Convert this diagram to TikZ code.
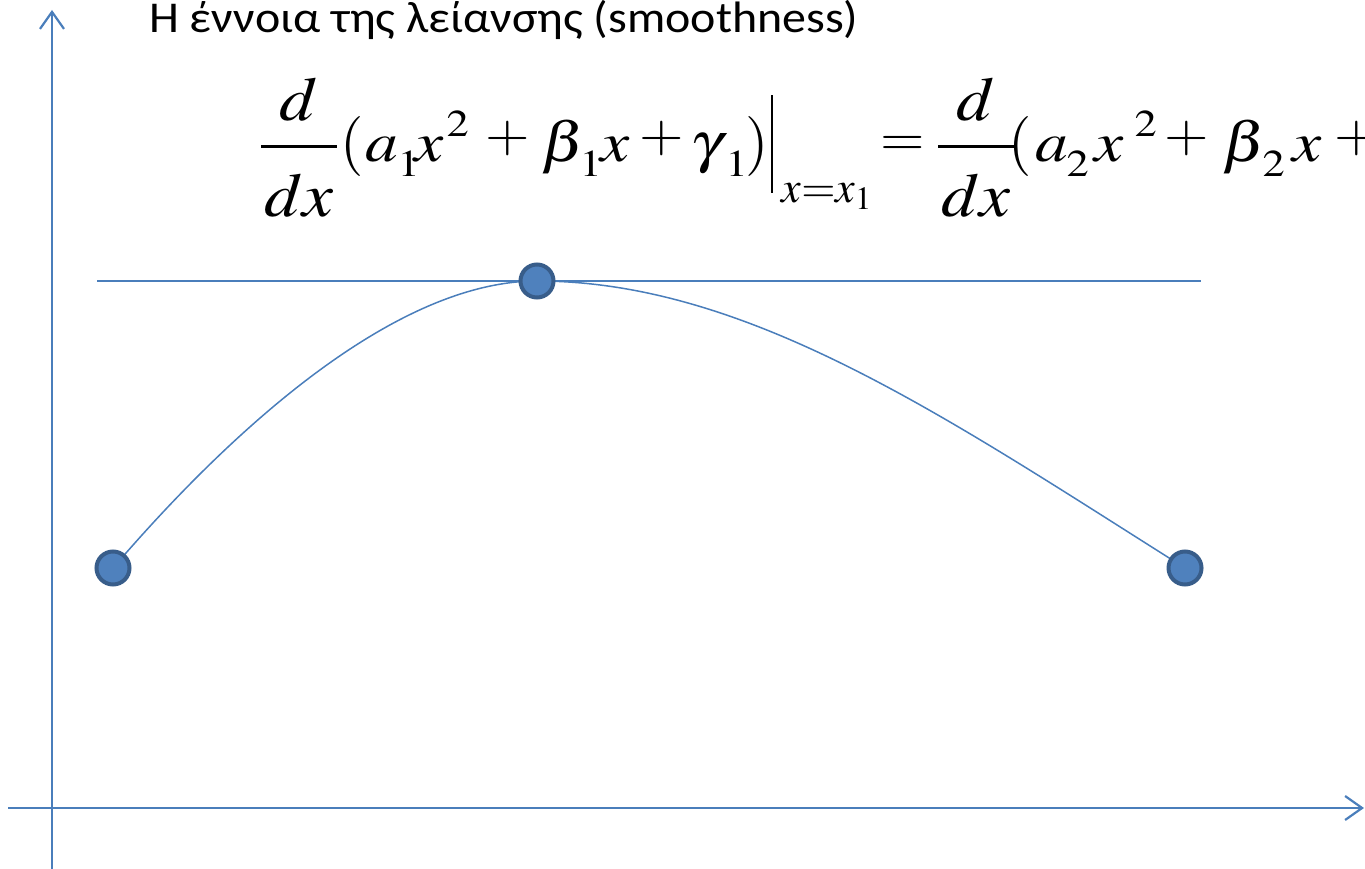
\documentclass[tikz,border=0pt]{standalone}
\usepackage{mathptmx}
\usepackage[no-math]{fontspec}
\setmainfont{Carlito}
\usetikzlibrary{arrows.meta}
\definecolor{axisblue}{HTML}{4A7EBB}
\definecolor{ptfill}{HTML}{4F81BD}
\definecolor{ptdraw}{HTML}{385D8A}
\tikzset{
  axisline/.style={draw=axisblue, line width=2.2pt, -{Straight Barb[length=17pt,width=24pt,line width=2.2pt]}},
  tangentline/.style={draw=axisblue, line width=1.8pt},
  curveline/.style={draw=axisblue, line width=1.5pt},
  ptnode/.style={circle, fill=ptfill, draw=ptdraw, line width=4pt, minimum size=33pt, inner sep=0pt},
  titletext/.style={inner sep=0pt, anchor=base west, font=\fontsize{44}{50}\selectfont},
  eqtext/.style={inner sep=0pt, anchor=base west, font=\fontsize{60}{66}\selectfont}
}
% place a piece at a horizontal offset (in pt) from the node origin
\newcommand{\putat}[2]{\makebox[0pt][l]{\hspace*{#1pt}#2}}
\newcommand{\ddxfrac}{\scalebox{1.12}[1]{\fontsize{62}{62}\selectfont$\displaystyle\frac{d}{\raisebox{-12pt}{$\hspace{3pt}dx\hspace{3pt}$}}$}}
\newcommand{\mainl}[1]{\scalebox{1.17}[1]{\fontsize{56}{56}\selectfont$#1$}}
\newcommand{\mysub}[1]{\raisebox{-15pt}{\scalebox{1.17}[1]{\fontsize{38}{38}\selectfont$#1$}}}
\newcommand{\mysupr}[1]{\raisebox{25pt}{\scalebox{1.17}[1]{\fontsize{38}{38}\selectfont$#1$}}}
\newcommand{\opr}[2]{\raisebox{#1pt}{\scalebox{1.1}[1]{\fontsize{52}{52}\selectfont$#2$}}}
\newcommand{\paren}[1]{\fontsize{60}{60}\selectfont$#1$}
\begin{document}
\begin{tikzpicture}[x=1pt,y=-1pt]
\useasboundingbox (0,0) rectangle (1365,869);
\clip (0,0) rectangle (1365,869);
% axes
\coordinate (ybot) at (52,869);
\coordinate (ytop) at (52,10);
\coordinate (xleft) at (8,808);
\coordinate (xright) at (1364,808);
\draw[axisline] (ybot) -- (ytop);
\draw[axisline] (xleft) -- (xright);
% tangent line
\coordinate (tl) at (97,281);
\coordinate (tr) at (1201,281);
\draw[tangentline] (tl) -- (tr);
% points
\coordinate (c1) at (113,568);
\coordinate (c2) at (537,281);
\coordinate (c3) at (1185,568);
\draw[curveline] (c1) .. controls (240,420) and (400,281) .. (c2)
                      .. controls (750,281) and (950,420) .. (c3);
\node[ptnode] (p1) at (c1) {};
\node[ptnode] (p2) at (c2) {};
\node[ptnode] (p3) at (c3) {};
% title
\node[titletext] (title) at (149,33) {\scalebox{1.09}[1]{Η έννοια της λείανσης (smoothness)}};
% equation (pieces placed along one baseline)
\node[eqtext] (eq) at (0,162) {%
\putat{259}{\ddxfrac}%
\putat{340}{\paren{(}}%
\putat{365}{\mainl{a}}%
\putat{397}{\mysub{1}}%
\putat{414}{\mainl{x}}%
\putat{446}{\mysupr{2}}%
\putat{485}{\opr{10}{+}}%
\putat{541}{\mainl{\beta}}%
\putat{579}{\mysub{1}}%
\putat{600}{\mainl{x}}%
\putat{639}{\opr{10}{+}}%
\putat{690}{\mainl{\gamma}}%
\putat{725}{\mysub{1}}%
\putat{745}{\paren{)}}%
\putat{770}{\rule[-31pt]{2.6pt}{98pt}}%
\putat{781}{\raisebox{-41pt}{\fontsize{44}{44}\selectfont$x\mathord{=}x_1$}}%
\putat{880}{\opr{6}{=}}%
\putat{936}{\ddxfrac}%
\putat{1008}{\paren{(}}%
\putat{1035}{\mainl{a}}%
\putat{1066}{\mysub{2}}%
\putat{1094}{\mainl{x}}%
\putat{1134}{\mysupr{2}}%
\putat{1164}{\opr{10}{+}}%
\putat{1222}{\mainl{\beta}}%
\putat{1262}{\mysub{2}}%
\putat{1292}{\mainl{x}}%
\putat{1334}{\opr{10}{+}}%
};
\end{tikzpicture}
\end{document}
